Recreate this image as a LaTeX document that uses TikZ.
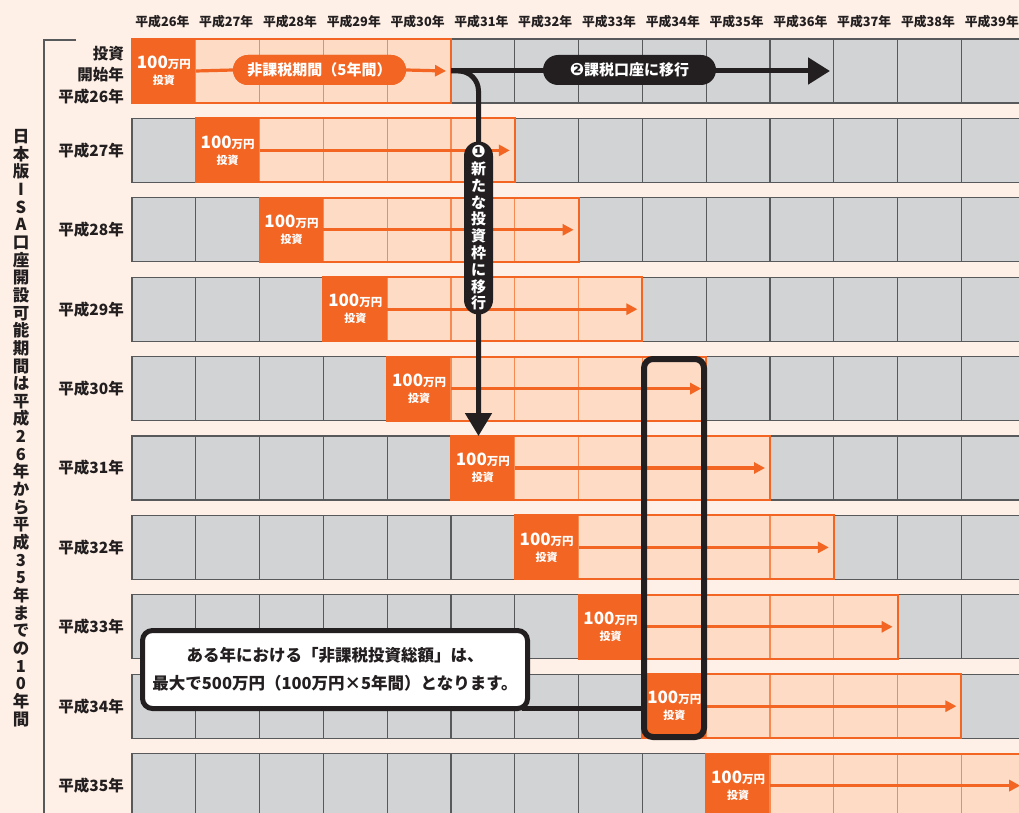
\documentclass[tikz,border=0pt]{standalone}
\usepackage{fontspec}
\setmainfont{Noto Sans CJK JP}
\newfontfamily\dv{DejaVu Sans}
\usetikzlibrary{arrows.meta}
\definecolor{bg}{HTML}{FEF0E6}
\definecolor{org}{HTML}{F26522}
\definecolor{lorg}{HTML}{FDDBC4}
\definecolor{divo}{HTML}{F58A52}
\definecolor{gcell}{HTML}{D1D3D4}
\definecolor{gline}{HTML}{58595B}
\definecolor{blk}{HTML}{231F20}
\begin{document}
\begin{tikzpicture}[x=1pt,y=-1pt,
 cellbase/.style={minimum width=63.8pt, minimum height=64pt, inner sep=0pt, outer sep=0pt},
 graycell/.style={cellbase, draw=gline, line width=1.3pt, fill=gcell},
 orgcell/.style={cellbase, fill=org, text=white, align=center, font=\bfseries\fontsize{11}{16}\selectfont},
 lcell/.style={cellbase, draw=divo, line width=1.2pt, fill=lorg},
 hdr/.style={font=\bfseries\fontsize{12.8}{14}\selectfont, text=blk, inner sep=0pt},
 rowlab/.style={font=\bfseries\fontsize{15.5}{21.5}\selectfont, text=blk, inner sep=0pt, align=right},
 oline/.style={draw=org, line width=3.2pt},
 oarrow/.style={oline, -{Triangle[length=11pt,width=11pt]}},
 bline/.style={draw=blk, line width=5pt},
 opill/.style={fill=org, text=white, rounded corners=15pt, minimum width=173pt, minimum height=30pt, inner sep=0pt, font=\bfseries\fontsize{15}{18}\selectfont},
 bpill/.style={fill=blk, text=white, rounded corners=15pt, minimum height=30pt, inner sep=0pt, font=\bfseries\fontsize{15}{18}\selectfont},
]
\useasboundingbox (0,0) rectangle (1019,813);
\fill[bg] (0,0) rectangle (1019,813);
\clip (0,0) rectangle (1019,813);

% headers
\foreach \c in {0,...,13}{
  \pgfmathsetmacro\cx{162.4+63.8*\c}
  \pgfmathtruncatemacro\yy{26+\c}
  \node[hdr] (h-\c) at (\cx,22) {平成\yy 年};
}

% left bracket and vertical text
\coordinate (bk1) at (76,40);
\coordinate (bk2) at (44,40);
\coordinate (bk3) at (44,813);
\draw[gline, line width=1.2pt] (bk1) -- (bk2) -- (bk3);
\node[font=\bfseries\fontsize{16.5}{17.65}\selectfont, text=blk, align=center, inner sep=0pt] (vt) at (21,428)
 {日\\本\\版\\I\\S\\A\\口\\座\\開\\設\\可\\能\\期\\間\\は\\平\\成\\2\\6\\年\\か\\ら\\平\\成\\3\\5\\年\\ま\\で\\の\\1\\0\\年\\間};

% cells
\foreach \r in {0,...,9}{
  \foreach \c in {0,...,13}{
    \pgfmathsetmacro\cx{163.9+63.8*\c}
    \pgfmathsetmacro\cy{71+79.4*\r}
    \pgfmathtruncatemacro\d{\c-\r}
    \ifnum\d<0 \node[graycell] (g-\r-\c) at (\cx,\cy) {};\fi
    \ifnum\d>4 \node[graycell] (g-\r-\c) at (\cx,\cy) {};\fi
    \ifnum\d>0 \ifnum\d<5 \node[lcell] (l-\r-\c) at (\cx,\cy) {};\fi\fi
    \ifnum\d=0 \node[orgcell] (o-\r) at (\cx,\cy) {{\fontsize{17}{16}\selectfont 100}{\fontsize{11.5}{16}\selectfont 万円}\\投資};\fi
  }
}

% row labels
\node[rowlab, anchor=east] (rl-0) at (124,75) {投資\\開始年\\平成26年};
\foreach \r in {1,...,9}{
  \pgfmathsetmacro\cy{71+79.4*\r}
  \pgfmathtruncatemacro\yy{26+\r}
  \node[rowlab, anchor=east] (rl-\r) at (124,\cy) {平成\yy 年};
}

% orange arrows and outlines
\node[opill] (p0) at (319.5,70) {非課税期間（5年間）};
\draw[oline] (o-0.east) -- (p0.west);
\draw[oarrow] (p0.east) -- ([xshift=-5pt]l-0-4.east);
\foreach \r in {1,...,9}{
  \pgfmathtruncatemacro\e{\r+4}
  \draw[oarrow] (o-\r.east) -- ([xshift=-5pt]l-\r-\e.east);
}
\foreach \r in {0,...,9}{
  \pgfmathtruncatemacro\e{\r+4}
  \draw[org, line width=2pt] (o-\r.north west) rectangle (l-\r-\e.south east);
}
\node[opill] (p0) at (319.5,70) {非課税期間（5年間）};

% black arrows
\coordinate (bstart) at (l-0-4.east);
\coordinate (btip) at (830,71);
\coordinate (vx) at (478.5,228);
\draw[bline, -{Triangle[length=22pt,width=26pt]}] (bstart) -- (btip);
\draw[bline, rounded corners=20pt, -{Triangle[length=23pt,width=26pt]}] (bstart) -- (bstart -| vx) -- (vx |- o-5.north);
\node[bpill, minimum width=173pt] (p2) at (629.5,70) {{\dv\fontsize{17}{18}\selectfont ❷}課税口座に移行};
\node[bpill, minimum width=29pt, minimum height=173pt, rounded corners=14.5pt, align=center, font=\bfseries\fontsize{15}{16.8}\selectfont] (p1) at (vx)
 {{\dv\fontsize{17}{16.8}\selectfont ❶}\\新\\た\\な\\投\\資\\枠\\に\\移\\行};

% highlight box and callout
\node[draw=blk, line width=6pt, rounded corners=9pt, minimum width=60pt, minimum height=378pt, inner sep=0pt] (hl) at (674,548) {};
\coordinate (cy) at (0,708);
\node[fill=white, draw=blk, line width=5pt, rounded corners=10pt, minimum width=385pt, minimum height=78pt, inner sep=0pt, align=center, font=\bfseries\fontsize{16.5}{28}\selectfont, text=blk] (co) at (335,669.5)
 {ある年における「非課税投資総額」は、\\最大で500万円（100万円×5年間）となります。};
\draw[bline] ([xshift=-8pt]co.east |- cy) -- (hl.west |- cy);
\end{tikzpicture}
\end{document}
